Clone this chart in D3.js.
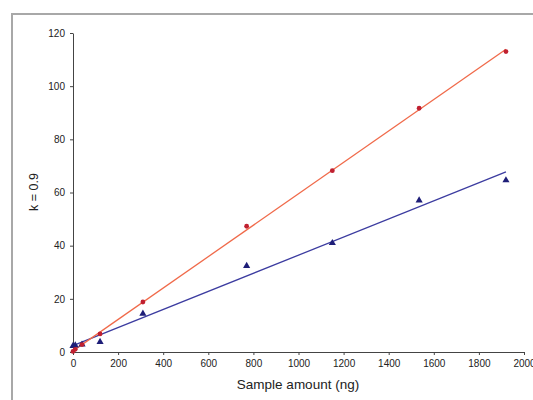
<!DOCTYPE html>
<html>
<head>
<meta charset="utf-8">
<script src="https://cdn.jsdelivr.net/npm/d3@7"></script>
<style>
  body { margin: 0; background: #fff; }
  svg { display: block; font-family: "Liberation Sans", Arial, sans-serif; }
</style>
</head>
<body>
<svg id="chart" width="533" height="400"></svg>
<script>
// sample amount (ng)
var sampleX = [0, 10, 40, 120, 310, 770, 1150, 1535, 1920];
// red circles
var redY = [0.2, 1, 2.8, 6.8, 18.8, 47.3, 68.2, 91.7, 113];
// blue triangles
var blueY = [2.3, 2.5, 2.8, 3.8, 14.4, 32.4, 41, 57, 64.6];

var xTicks = [0, 200, 400, 600, 800, 1000, 1200, 1400, 1600, 1800, 2000];
var yTicks = [0, 20, 40, 60, 80, 100, 120];

var svg = d3.select("#chart");

var x = d3.scaleLinear().domain([0, 2000]).range([73, 524]);
var y = d3.scaleLinear().domain([0, 120]).range([352, 33]);

// outer frame
svg.append("rect")
    .attr("x", 12).attr("y", 14)
    .attr("width", 540).attr("height", 400)
    .attr("fill", "none")
    .attr("stroke", "#a8a8a8")
    .attr("stroke-width", 2);

// axes
var xAxis = svg.append("g")
    .attr("transform", "translate(0," + y(0) + ")")
    .call(d3.axisBottom(x).tickValues(xTicks).tickFormat(d3.format("d"))
        .tickSize(3).tickSizeOuter(0).tickPadding(5));
var yAxis = svg.append("g")
    .attr("transform", "translate(" + x(0) + ",0)")
    .call(d3.axisLeft(y).tickValues(yTicks).tickFormat(d3.format("d"))
        .tickSize(3).tickSizeOuter(0).tickPadding(5));

[xAxis, yAxis].forEach(function (g) {
    g.select(".domain").attr("stroke", "#444");
    g.selectAll(".tick line").attr("stroke", "#444");
    g.selectAll("text").attr("font-size", 10).attr("fill", "#222").attr("font-family", "Liberation Sans, Arial, sans-serif");
});

svg.append("text")
    .attr("x", 298).attr("y", 389)
    .attr("text-anchor", "middle")
    .attr("font-size", 13.5)
    .attr("fill", "#222")
    .text("Sample amount (ng)");

svg.append("text")
    .attr("transform", "translate(38,192) rotate(-90)")
    .attr("text-anchor", "middle")
    .attr("font-size", 12.5)
    .attr("fill", "#222")
    .text("k = 0.9");

// least squares fit
function fit(xs, ys) {
    var mx = d3.mean(xs), my = d3.mean(ys);
    var num = d3.sum(xs, (d, i) => (d - mx) * (ys[i] - my));
    var den = d3.sum(xs, (d) => (d - mx) * (d - mx));
    var b = num / den;
    return { a: my - b * mx, b: b };
}

function drawTrend(ys, colour) {
    var f = fit(sampleX, ys);
    var x0 = d3.min(sampleX), x1 = d3.max(sampleX);
    svg.append("line")
        .attr("x1", x(x0)).attr("y1", y(f.a + f.b * x0))
        .attr("x2", x(x1)).attr("y2", y(f.a + f.b * x1))
        .attr("stroke", colour)
        .attr("stroke-width", 1.3);
}

drawTrend(blueY, "#3c3ca0");
drawTrend(redY, "#f06a4a");

var blue = sampleX.map((d, i) => ({ x: d, y: blueY[i] }));
var red = sampleX.map((d, i) => ({ x: d, y: redY[i] }));

svg.selectAll("path.tri")
    .data(blue)
    .enter()
    .append("path")
    .attr("class", "tri")
    .attr("d", d3.symbol().type(d3.symbolTriangle).size(22))
    .attr("transform", (d) => "translate(" + x(d.x) + "," + y(d.y) + ")")
    .attr("fill", "#1e1e78");

svg.selectAll("circle.dot")
    .data(red)
    .enter()
    .append("circle")
    .attr("class", "dot")
    .attr("cx", (d) => x(d.x))
    .attr("cy", (d) => y(d.y))
    .attr("r", 2.4)
    .attr("fill", "#c02030");
</script>
</body>
</html>
